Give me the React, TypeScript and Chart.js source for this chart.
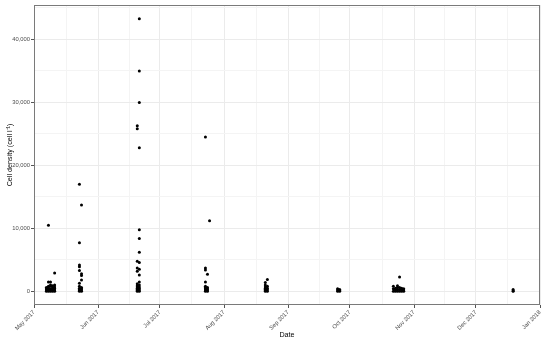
import React, { useEffect, useRef } from "react";
import { Chart, registerables } from "chart.js";

Chart.register(...registerables);

// Sampling dates and cell densities (cells per litre)
const sampleDates: string[] = [
  "2017-05-07","2017-05-07","2017-05-07","2017-05-07",
  "2017-05-08","2017-05-08","2017-05-08","2017-05-08","2017-05-08","2017-05-08","2017-05-08",
  "2017-05-09","2017-05-09","2017-05-09","2017-05-09","2017-05-09","2017-05-09",
  "2017-05-10","2017-05-10","2017-05-10","2017-05-10","2017-05-10",
  "2017-05-11","2017-05-11","2017-05-11","2017-05-11","2017-05-11","2017-05-11",
  "2017-05-23","2017-05-23","2017-05-23","2017-05-23","2017-05-23","2017-05-23","2017-05-23","2017-05-23","2017-05-23","2017-05-23","2017-05-23",
  "2017-05-24","2017-05-24","2017-05-24","2017-05-24","2017-05-24","2017-05-24","2017-05-24","2017-05-24",
  "2017-06-20","2017-06-20","2017-06-20","2017-06-20","2017-06-20","2017-06-20","2017-06-20","2017-06-20","2017-06-20","2017-06-20","2017-06-20","2017-06-20",
  "2017-06-21","2017-06-21","2017-06-21","2017-06-21","2017-06-21","2017-06-21","2017-06-21","2017-06-21","2017-06-21","2017-06-21","2017-06-21","2017-06-21","2017-06-21","2017-06-21","2017-06-21","2017-06-21",
  "2017-07-23","2017-07-23","2017-07-23","2017-07-23","2017-07-23","2017-07-23","2017-07-23","2017-07-23","2017-07-23",
  "2017-07-24","2017-07-24","2017-07-24","2017-07-24","2017-07-24",
  "2017-07-25",
  "2017-08-21","2017-08-21","2017-08-21","2017-08-21","2017-08-21","2017-08-21","2017-08-21",
  "2017-08-22","2017-08-22","2017-08-22","2017-08-22","2017-08-22",
  "2017-09-25","2017-09-25","2017-09-25",
  "2017-09-26","2017-09-26","2017-09-26",
  "2017-10-22","2017-10-22","2017-10-22",
  "2017-10-23","2017-10-23","2017-10-23",
  "2017-10-24","2017-10-24","2017-10-24","2017-10-24",
  "2017-10-25","2017-10-25","2017-10-25","2017-10-25",
  "2017-10-26","2017-10-26","2017-10-26",
  "2017-10-27","2017-10-27","2017-10-27",
  "2017-12-19","2017-12-19","2017-12-19",
];

const cellDensity: number[] = [
  600, 400, 200, 0,
  10500, 1500, 800, 600, 400, 200, 0,
  1500, 1000, 800, 400, 200, 0,
  900, 600, 400, 200, 0,
  2900, 1000, 700, 450, 200, 0,
  17000, 7700, 4200, 3900, 3300, 1300, 800, 500, 300, 150, 0,
  13700, 2800, 2500, 1800, 600, 400, 200, 0,
  26300, 25800, 4800, 3700, 3200, 1200, 900, 700, 500, 300, 150, 0,
  43300, 35000, 30000, 22800, 9800, 8400, 6200, 4600, 3500, 2600, 1500, 1000, 700, 450, 200, 0,
  24500, 3700, 3400, 1500, 800, 600, 400, 200, 0,
  2700, 600, 400, 200, 0,
  11200,
  1400, 1000, 700, 500, 350, 150, 0,
  1900, 800, 500, 250, 0,
  400, 200, 0,
  300, 150, 0,
  800, 400, 0,
  500, 250, 0,
  900, 600, 300, 0,
  2300, 600, 300, 0,
  500, 250, 0,
  400, 200, 0,
  300, 100, 0,
];

const monthTickDates: string[] = [
  "2017-05-01","2017-06-01","2017-07-01","2017-08-01","2017-09-01",
  "2017-10-01","2017-11-01","2017-12-01","2018-01-01",
];
const monthTickLabels: string[] = [
  "May 2017","Jun 2017","Jul 2017","Aug 2017","Sep 2017",
  "Oct 2017","Nov 2017","Dec 2017","Jan 2018",
];
const yMajorTicks: number[] = [0, 10000, 20000, 30000, 40000];
const yMinorTicks: number[] = [5000, 15000, 25000, 35000, 45000];

const ORIGIN = Date.UTC(2017, 4, 1);
function dayOf(s: string): number {
  const [y, m, d] = s.split("-").map(Number);
  return (Date.UTC(y, m - 1, d) - ORIGIN) / 86400000;
}

const FONT = "'Liberation Sans', Arial, sans-serif";

export default function App() {
  const ref = useRef<HTMLCanvasElement | null>(null);

  useEffect(() => {
    if (!ref.current) return;
    const points = sampleDates.map((d, i) => ({ x: dayOf(d), y: cellDensity[i] }));
    const xMajor = monthTickDates.map(dayOf);
    const xMinor: number[] = [];
    for (let i = 0; i < xMajor.length - 1; i++) xMinor.push((xMajor[i] + xMajor[i + 1]) / 2);
    const xLabelMap = new Map<number, string>();
    xMajor.forEach((v, i) => xLabelMap.set(v, monthTickLabels[i]));
    const xMajorSet = new Set(xMajor);
    const yMajorSet = new Set(yMajorTicks);
    const yMaxData = Math.max(...cellDensity);
    const yMinData = Math.min(...cellDensity);
    const yPad = (yMaxData - yMinData) * 0.05;

    const border = {
      id: "panelBorder",
      afterDraw(chart: any) {
        const { ctx, chartArea: a } = chart;
        ctx.save();
        ctx.strokeStyle = "#7a7a7a";
        ctx.lineWidth = 1;
        ctx.strokeRect(Math.round(a.left) + 0.5, Math.round(a.top) + 0.5, Math.round(a.right - a.left) - 1, Math.round(a.bottom - a.top) - 1);
        ctx.restore();
      },
    };

    const chart = new Chart(ref.current, {
      type: "scatter",
      data: {
        datasets: [
          {
            data: points,
            backgroundColor: "#000000",
            borderWidth: 0,
            pointRadius: 1.5,
            pointHoverRadius: 1.5,
          },
        ],
      },
      plugins: [border],
      options: {
        responsive: false,
        animation: false,
        events: [],
        layout: { padding: { top: 5, right: 10, left: 0, bottom: 0 } },
        plugins: { legend: { display: false }, tooltip: { enabled: false } },
        scales: {
          x: {
            type: "linear",
            min: xMajor[0],
            max: xMajor[xMajor.length - 1],
            afterBuildTicks: (s: any) => {
              s.ticks = [...xMajor, ...xMinor].sort((a, b) => a - b).map((v) => ({ value: v }));
            },
            afterFit: (s: any) => {
              s.height = 37;
            },
            grid: {
              color: (c: any) => (xMajorSet.has(c.tick?.value) ? "#ebebeb" : "#f4f4f4"),
              lineWidth: 1,
              tickLength: 3,
              tickColor: (c: any) => (xMajorSet.has(c.tick?.value) ? "#555555" : "rgba(0,0,0,0)"),
            },
            border: { display: false },
            ticks: {
              autoSkip: false,
              minRotation: 45,
              maxRotation: 45,
              padding: 1,
              color: "#4d4d4d",
              font: { family: FONT, size: 5.8 },
              callback: (v: any) => xLabelMap.get(Number(v)) ?? "",
            },
            title: {
              display: true,
              text: "Date",
              color: "#000000",
              font: { family: FONT, size: 7.2 },
              padding: { top: 0, bottom: 3 },
            },
          },
          y: {
            type: "linear",
            min: yMinData - yPad,
            max: yMaxData + yPad,
            afterBuildTicks: (s: any) => {
              s.ticks = [...yMajorTicks, ...yMinorTicks].sort((a, b) => a - b).map((v) => ({ value: v }));
            },
            afterFit: (s: any) => {
              s.width = 34;
            },
            grid: {
              color: (c: any) => (yMajorSet.has(c.tick?.value) ? "#ebebeb" : "#f4f4f4"),
              lineWidth: 1,
              tickLength: 3,
              tickColor: (c: any) => (yMajorSet.has(c.tick?.value) ? "#555555" : "rgba(0,0,0,0)"),
            },
            border: { display: false },
            ticks: {
              autoSkip: false,
              padding: 1,
              color: "#4d4d4d",
              font: { family: FONT, size: 5.8 },
              callback: (v: any) => (yMajorSet.has(Number(v)) ? Number(v).toLocaleString("en-US") : ""),
            },
            title: {
              display: true,
              text: "Cell density (cell l\u207B\u00B9)",
              color: "#000000",
              font: { family: FONT, size: 7.2 },
              padding: { top: 6, bottom: 0 },
            },
          },
        },
      },
    });
    return () => chart.destroy();
  }, []);

  return (
    <div style={{ position: "fixed", left: 0, top: 0, width: 550, height: 342, background: "#ffffff" }}>
      <canvas ref={ref} width={550} height={342} style={{ display: "block", width: 550, height: 342 }} />
    </div>
  );
}
